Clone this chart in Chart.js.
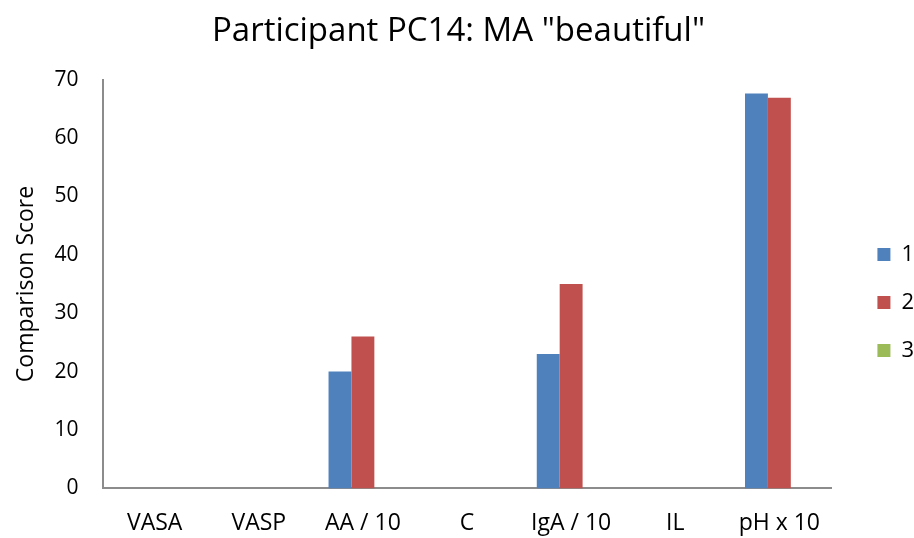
<!DOCTYPE html>
<html>
<head>
<meta charset="utf-8">
<script src="https://cdn.jsdelivr.net/npm/chart.js@4/dist/chart.umd.min.js"></script>
<style>
  body { margin: 0; background: #fff; }
  #wrap { width: 914px; height: 538px; }
</style>
</head>
<body>
<div id="wrap"><canvas id="myChart" width="914" height="538"></canvas></div>
<script>
const categories = ['VASA', 'VASP', 'AA / 10', 'C', 'IgA / 10', 'IL', 'pH x 10'];
const series1 = [0, 0, 20, 0, 23, 0, 67.6];
const series2 = [0, 0, 26, 0, 35, 0, 66.9];
const series3 = [0, 0, 0, 0, 0, 0, 0];
const yTicks = [0, 10, 20, 30, 40, 50, 60, 70];

const font = "'Open Sans', sans-serif";

// nudge the legend right/down so it sits where Excel put it
const legendShift = {
    id: 'legendShift',
    afterLayout(chart) {
        const lg = chart.legend;
        lg.left += 20; lg.right += 20;
        lg.top += 28; lg.bottom += 28;
    }
};

let ctx = document.getElementById('myChart').getContext('2d');
let chart = new Chart(ctx, {
    type: 'bar',
    data: {
        labels: categories,
        datasets: [
            { label: '1', data: series1, backgroundColor: '#4F81BD' },
            { label: '2', data: series2, backgroundColor: '#C0504D' },
            { label: '3', data: series3, backgroundColor: '#9BBB59' },
        ],
    },
    plugins: [legendShift],
    options: {
        responsive: false,
        animation: false,
        layout: { padding: { top: 12, left: 13, right: 10, bottom: 1 } },
        datasets: { bar: { categoryPercentage: 0.66, barPercentage: 1 } },
        plugins: {
            title: {
                display: true,
                text: 'Participant PC14: MA "beautiful"',
                color: '#000',
                font: { family: font, size: 33, weight: 'normal' },
                padding: { top: 0, bottom: 28 },
            },
            legend: {
                position: 'right',
                labels: {
                    color: '#000',
                    boxWidth: 13,
                    boxHeight: 13,
                    padding: 26,
                    font: { family: font, size: 22 },
                },
            },
            tooltip: { enabled: false },
        },
        scales: {
            x: {
                grid: { display: false, drawTicks: false },
                border: { color: '#8C8C8C', width: 2 },
                ticks: { color: '#000', padding: 21, font: { family: font, size: 23 } },
                // padding is reserved on both sides of the labels, drop the outer one
                afterFit: s => { s.height -= 21; },
            },
            y: {
                min: 0,
                max: 70,
                afterBuildTicks: axis => { axis.ticks = yTicks.map(v => ({ value: v })); },
                grid: { display: false, drawTicks: false },
                border: { color: '#8C8C8C', width: 2 },
                ticks: { color: '#000', padding: 24, font: { family: font, size: 21 } },
                title: {
                    display: true,
                    text: 'Comparison Score',
                    color: '#000',
                    font: { family: font, size: 23 },
                    padding: { top: 0, bottom: 14 },
                },
                afterFit: s => { s.width -= 24; },
            },
        },
    },
});
</script>
</body>
</html>
